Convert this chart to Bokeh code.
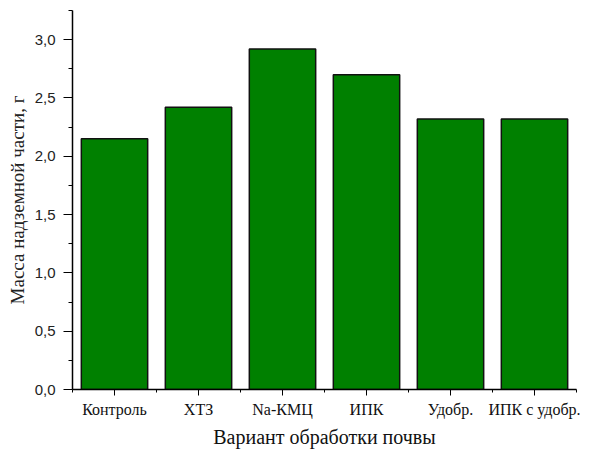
from bokeh.plotting import figure
from bokeh.models import ColumnDataSource, FixedTicker, CustomJSTickFormatter, Range1d
from bokeh.embed import file_html
from bokeh.resources import INLINE

categories = ["Контроль", "ХТЗ", "Na-КМЦ", "ИПК", "Удобр.", "ИПК с удобр."]
mass = [2.15, 2.42, 2.92, 2.70, 2.32, 2.32]
y_ticks = [0.0, 0.5, 1.0, 1.5, 2.0, 2.5, 3.0]
y_minor = [0.25, 0.75, 1.25, 1.75, 2.25, 2.75, 3.25]

SERIF = "'Liberation Serif', 'Times New Roman', serif"
SANS = "'Liberation Sans', Arial, sans-serif"

xpos = [i + 0.5 for i in range(len(categories))]
src = ColumnDataSource(dict(x=xpos, top=mass, name=categories))

p = figure(width=603, height=450, output_backend="svg", toolbar_location=None,
           x_range=Range1d(0, len(categories)), y_range=Range1d(0, 3.25),
           min_border_left=72, min_border_right=27, min_border_top=10, min_border_bottom=61)

p.vbar(x="x", top="top", width=0.79, bottom=0, source=src,
       fill_color="#008000", line_color="#111111", line_width=1.5)

p.grid.visible = False
p.outline_line_color = None
p.background_fill_color = "white"
p.border_fill_color = "white"

# X axis
xa = p.xaxis[0]
xa.ticker = FixedTicker(ticks=xpos, minor_ticks=list(range(len(categories) + 1)))
xa.formatter = CustomJSTickFormatter(args=dict(labels=categories),
                                     code="return labels[Math.floor(tick)];")
xa.major_tick_out = 6
xa.major_tick_in = 0
xa.minor_tick_out = 3
xa.minor_tick_in = 0
xa.major_label_standoff = 5
xa.major_label_text_font = SERIF
xa.major_label_text_font_size = "16px"
xa.major_label_text_color = "#111111"
xa.axis_label = "Вариант обработки почвы"
xa.axis_label_text_font = SERIF
xa.axis_label_text_font_size = "20px"
xa.axis_label_text_font_style = "normal"
xa.axis_label_text_color = "#111111"
xa.axis_label_standoff = 5
xa.axis_line_color = "black"
xa.axis_line_width = 1.5

# Y axis
ya = p.yaxis[0]
ya.ticker = FixedTicker(ticks=y_ticks, minor_ticks=y_minor)
ya.formatter = CustomJSTickFormatter(code="return tick.toFixed(1).replace('.', ',');")
ya.major_tick_out = 9
ya.major_tick_in = 0
ya.minor_tick_out = 4
ya.minor_tick_in = 0
ya.major_label_standoff = 8
ya.major_label_text_font = SANS
ya.major_label_text_font_size = "15px"
ya.major_label_text_color = "#222222"
ya.axis_label = "Масса надземной части, г"
ya.axis_label_text_font = SERIF
ya.axis_label_text_font_size = "19px"
ya.axis_label_text_font_style = "normal"
ya.axis_label_text_color = "#222222"
ya.axis_label_standoff = 4
ya.axis_line_color = "black"
ya.axis_line_width = 1.5

open("out.html", "w").write(file_html(p, INLINE))
